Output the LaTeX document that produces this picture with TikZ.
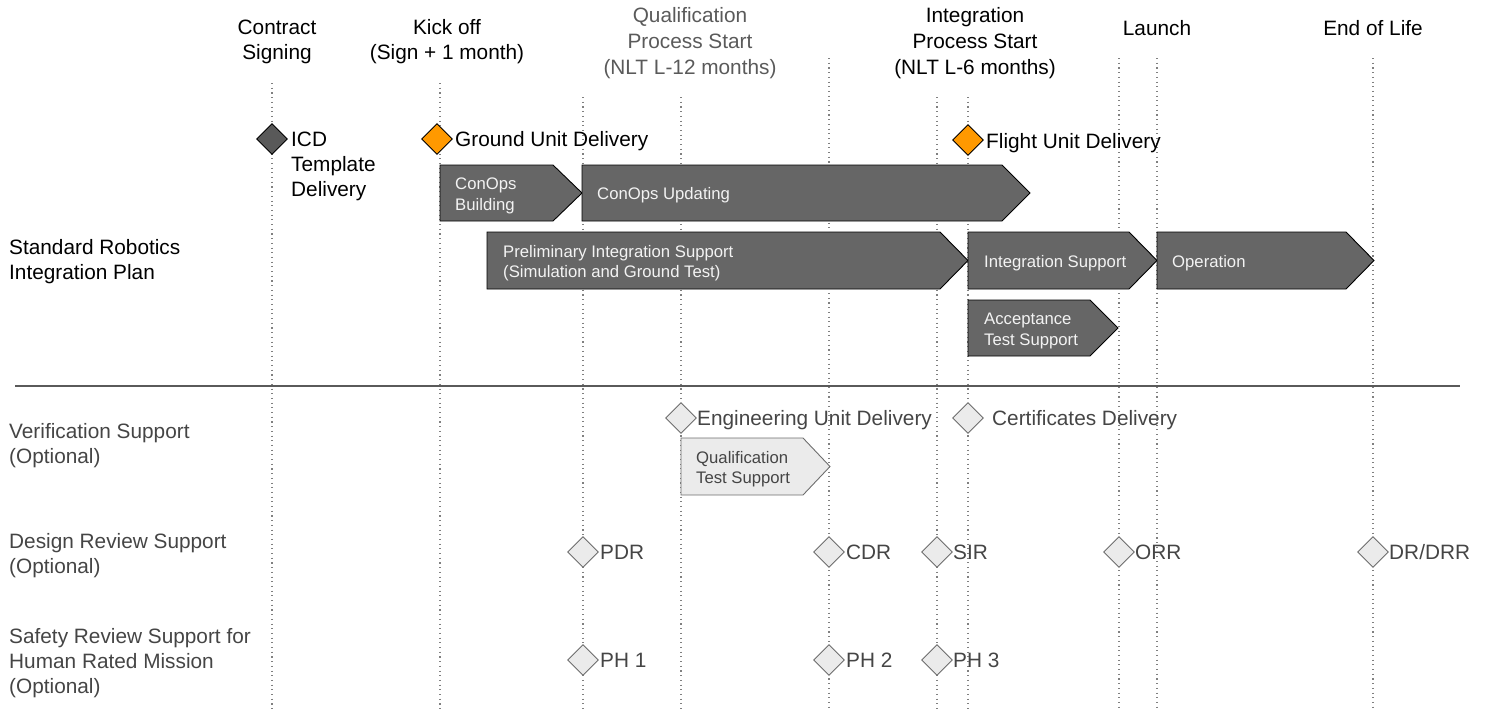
\documentclass[tikz,border=0pt]{standalone}
\usepackage{fontspec}
\setmainfont{Liberation Sans}
\usetikzlibrary{shapes.geometric}
\definecolor{barfill}{HTML}{666666}
\definecolor{darkdia}{HTML}{595959}
\definecolor{orangedia}{HTML}{FF9900}
\definecolor{lightfill}{HTML}{EBEBEB}
\definecolor{lightedge}{HTML}{6E6E6E}
\definecolor{greytext}{HTML}{454545}
\definecolor{headgrey}{HTML}{5A5A5A}
\definecolor{gridline}{HTML}{808080}
\definecolor{barText}{HTML}{F3F3F3}
\definecolor{sepline}{HTML}{5A5A5A}

\begin{document}
\begin{tikzpicture}[x=1pt,y=-1pt,
  bigtext/.style={font=\fontsize{20.8}{25}\selectfont, inner sep=0pt},
  headtext/.style={bigtext, align=center},
  lefttext/.style={bigtext, align=left, anchor=west},
  bartext/.style={font=\fontsize{16.7}{20.5}\selectfont, inner sep=0pt, align=left, anchor=west, text=barText},
  gridrule/.style={gridline, line width=1.1pt, dash pattern=on 1.1pt off 3.6pt},
  darkbar/.style={fill=barfill, draw=black, line width=0.9pt, line join=miter},
  lightbar/.style={fill=lightfill, draw=lightedge, line width=0.9pt},
  milestone/.style={diamond, minimum width=31pt, minimum height=31pt, inner sep=0pt, line width=0.9pt},
  keydia/.style={milestone, draw=black},
  optdia/.style={milestone, fill=lightfill, draw=lightedge},
]
\useasboundingbox (0,0) rectangle (1487,710);

% ---- time grid -------------------------------------------------------
\foreach \n/\x/\t in {g1/272/83, g2/440/83, g3/583/97, g4/681/97, g5/829/58,
                      g6/937/97, g7/968/97, g8/1119/58, g9/1157/58, g10/1373/58}{
  \coordinate (\n top) at (\x,\t);
  \coordinate (\n bot) at (\x,710);
  \draw[gridrule] (\n top) -- (\n bot);
}

% ---- column headings -------------------------------------------------
\node[headtext] (hsign) at (277,42) {Contract\\Signing};
\node[headtext] (hkick) at (447,42) {Kick off\\(Sign + 1 month)};
\node[headtext, font=\fontsize{20.8}{25.8}\selectfont, text=headgrey] (hqual) at (690,43) {Qualification\\Process Start\\(NLT L-12 months)};
\node[headtext, font=\fontsize{20.8}{25.8}\selectfont] (hinteg) at (975,43) {Integration\\Process Start\\(NLT L-6 months)};
\node[headtext] (hlaunch) at (1157,28) {Launch};
\node[headtext] (heol) at (1373,28) {End of Life};

% ---- row headings ----------------------------------------------------
\node[lefttext] (rplan) at (9,262) {Standard Robotics\\Integration Plan};
\node[lefttext, text=greytext] (rverif) at (9,446) {Verification Support\\(Optional)};
\node[lefttext, text=greytext] (rdesign) at (9,556) {Design Review Support\\(Optional)};
\node[lefttext, text=greytext] (rsafety) at (9,663) {Safety Review Support for\\Human Rated Mission\\(Optional)};

% ---- section divider -------------------------------------------------
\coordinate (sepL) at (15,386);
\coordinate (sepR) at (1460,386);
\draw[sepline, line width=1.3pt] (sepL) -- (sepR);

% ---- standard plan: deliveries ---------------------------------------
\node[keydia, fill=darkdia] (dicd) at (272,139) {};
\node[lefttext] (licd) at (291,166) {ICD\\Template\\Delivery};
\node[keydia, fill=orangedia] (dground) at (437,139) {};
\node[lefttext] (lground) at (455,141) {Ground Unit Delivery};
\node[keydia, fill=orangedia] (dflight) at (968,140) {};
\node[lefttext] (lflight) at (986,143) {Flight Unit Delivery};

% ---- standard plan: activities ---------------------------------------
\draw[darkbar] (440,165) -- (553,165) -- (582,193) -- (553,221) -- (440,221) -- cycle;
\node[bartext] (tconb) at (455,196) {ConOps\\Building};
\draw[darkbar] (582,165) -- (1002,165) -- (1030,193) -- (1002,221) -- (582,221) -- cycle;
\node[bartext] (tconu) at (597,195) {ConOps Updating};

\draw[darkbar] (487,232) -- (940,232) -- (968,260.5) -- (940,289) -- (487,289) -- cycle;
\node[bartext] (tprelim) at (503,263) {Preliminary Integration Support\\(Simulation and Ground Test)};
\draw[darkbar] (968,232) -- (1129,232) -- (1157,260.5) -- (1129,289) -- (968,289) -- cycle;
\node[bartext] (tintsup) at (984,263) {Integration Support};
\draw[darkbar] (1157,232) -- (1346,232) -- (1374,260.5) -- (1346,289) -- (1157,289) -- cycle;
\node[bartext] (toper) at (1172,263) {Operation};

\draw[darkbar] (968,300) -- (1090,300) -- (1118,328) -- (1090,356) -- (968,356) -- cycle;
\node[bartext] (taccept) at (984,331) {Acceptance\\Test Support};

% ---- verification support --------------------------------------------
\node[optdia] (deng) at (681,418) {};
\node[lefttext, text=greytext] (leng) at (697,420) {Engineering Unit Delivery};
\node[optdia] (dcert) at (968,418) {};
\node[lefttext, text=greytext] (lcert) at (992,420) {Certificates Delivery};

\draw[lightbar] (681,438) -- (803,438) -- (830,466.5) -- (803,495) -- (681,495) -- cycle;
\node[bartext, text=greytext] (tqual) at (696,469) {Qualification\\Test Support};

% ---- design review support -------------------------------------------
\node[optdia] (dpdr) at (583,552) {};
\node[lefttext, text=greytext] (lpdr) at (600,552) {PDR};
\node[optdia] (dcdr) at (829,552) {};
\node[lefttext, text=greytext] (lcdr) at (846,552) {CDR};
\node[optdia] (dsir) at (937,552) {};
\node[lefttext, text=greytext] (lsir) at (953,552) {SIR};
\node[optdia] (dorr) at (1119,552) {};
\node[lefttext, text=greytext] (lorr) at (1135,552) {ORR};
\node[optdia] (ddrr) at (1373,552) {};
\node[lefttext, text=greytext] (ldrr) at (1389,552) {DR/DRR};

% ---- safety review support -------------------------------------------
\node[optdia] (dph1) at (583,660) {};
\node[lefttext, text=greytext] (lph1) at (600,660) {PH 1};
\node[optdia] (dph2) at (829,660) {};
\node[lefttext, text=greytext] (lph2) at (846,660) {PH 2};
\node[optdia] (dph3) at (937,660) {};
\node[lefttext, text=greytext] (lph3) at (953,660) {PH 3};
\end{tikzpicture}
\end{document}
